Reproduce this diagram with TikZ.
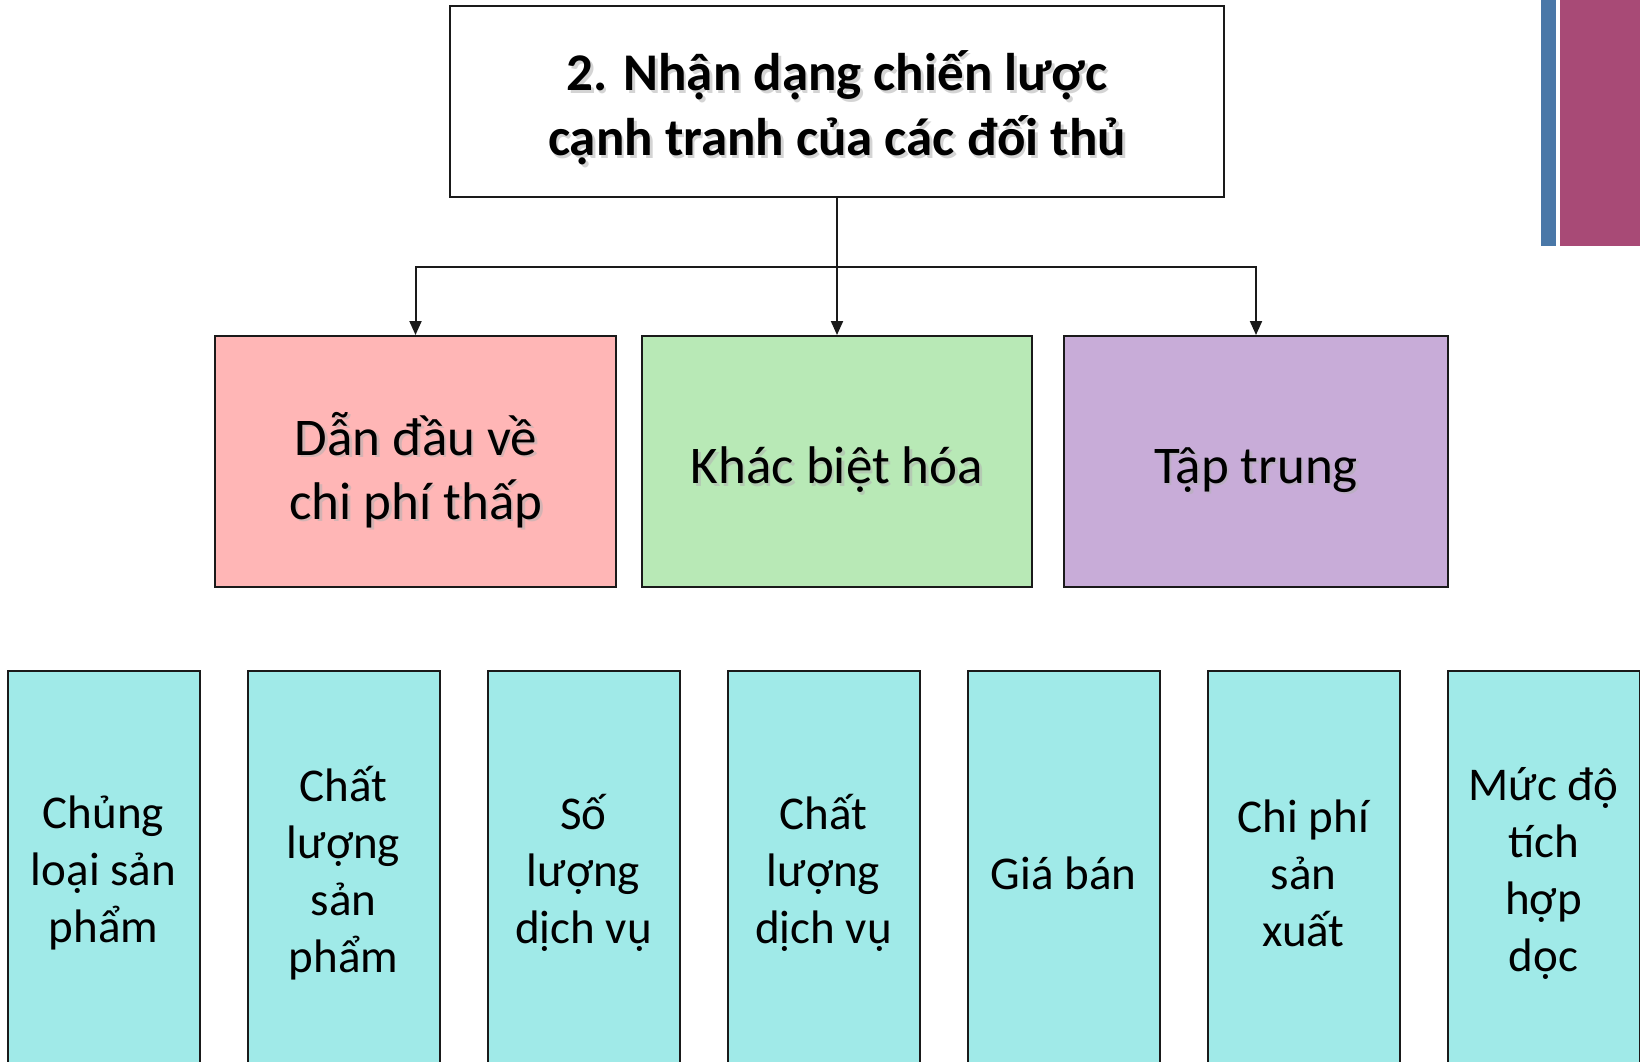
\documentclass[tikz,border=0pt]{standalone}
\usepackage{fontspec}
\setmainfont{Carlito}
\usetikzlibrary{arrows.meta}
\definecolor{cpink}{HTML}{FFB6B6}
\definecolor{cgreen}{HTML}{B8E9B6}
\definecolor{cpurple}{HTML}{C8ACD8}
\definecolor{ccyan}{HTML}{A0EAE8}
\definecolor{cbar}{HTML}{4A78A8}
\definecolor{cmag}{HTML}{A84A76}
\definecolor{cline}{HTML}{1A1A1A}
\tikzset{
  box/.style={draw=cline, line width=2pt, inner sep=0pt, anchor=center},
  boxtext/.style={inner sep=0pt, align=center, anchor=center, text=black},
  shadowtext/.style={inner sep=0pt, align=center, anchor=center, text=black!30, opacity=0.55},
  conn/.style={draw=cline, line width=2pt},
  arr/.style={conn, -{Triangle[length=14pt,width=12pt]}},
  titlefont/.style={font=\fontsize{53}{65}\selectfont\bfseries},
  midfont/.style={font=\fontsize{53}{64}\selectfont},
  botfont/.style={font=\fontsize{47}{57}\selectfont},
}
\begin{document}
\begin{tikzpicture}[x=1pt,y=-1pt]
\useasboundingbox (0,0) rectangle (1640,1061);
\clip (0,0) rectangle (1640,1061);
% right decorative bars
\fill[cbar] (1541,0) rectangle (1556,246);
\fill[cmag] (1560,0) rectangle (1640,246);
% title
\node[box, fill=white, minimum width=774pt, minimum height=191pt] (title) at (837,101.5) {};
\node[shadowtext, titlefont] (titlesh) at (839.5,110.5) {2. Nhận dạng chiến lược\\cạnh tranh của các đối thủ};
\node[boxtext, titlefont] (titlet) at (837,108) {2. Nhận dạng chiến lược\\cạnh tranh của các đối thủ};
% middle boxes
\node[box, fill=cpink, minimum width=401pt, minimum height=251pt] (pink) at (415.5,461.5) {};
\node[box, fill=cgreen, minimum width=390pt, minimum height=251pt] (green) at (837,461.5) {};
\node[box, fill=cpurple, minimum width=384pt, minimum height=251pt] (purple) at (1256,461.5) {};
\node[shadowtext, midfont] (pinksh) at (418.5,472.5) {Dẫn đầu về\\chi phí thấp};
\node[boxtext, midfont] (pinkt) at (416,470) {Dẫn đầu về\\chi phí thấp};
\node[shadowtext, midfont] (greensh) at (839.5,472.5) {Khác biệt hóa};
\node[boxtext, midfont] (greent) at (837,470) {Khác biệt hóa};
\node[shadowtext, midfont] (purplesh) at (1258.5,472.5) {Tập trung};
\node[boxtext, midfont] (purplet) at (1256,470) {Tập trung};
% connectors
\coordinate (hj) at (837,267);
\draw[arr] (title.south) -- (green.north);
\draw[arr] (hj) -| (pink.north);
\draw[arr] (hj) -| (purple.north);
% bottom boxes
\foreach \i/\t in {0/{Chủng\\loại sản\\phẩm},
                   1/{Chất\\lượng\\sản\\phẩm},
                   2/{Số\\lượng\\dịch vụ},
                   3/{Chất\\lượng\\dịch vụ},
                   4/{Giá bán},
                   5/{Chi phí\\sản\\xuất},
                   6/{Mức độ\\tích\\hợp\\dọc}} {
  \node[box, fill=ccyan, minimum width=192pt, minimum height=404pt] (b\i) at ({103.5+240*\i},873) {};
  \node[boxtext, botfont] (bt\i) at ({103.5+240*\i},873) {\t};
}
\end{tikzpicture}
\end{document}
